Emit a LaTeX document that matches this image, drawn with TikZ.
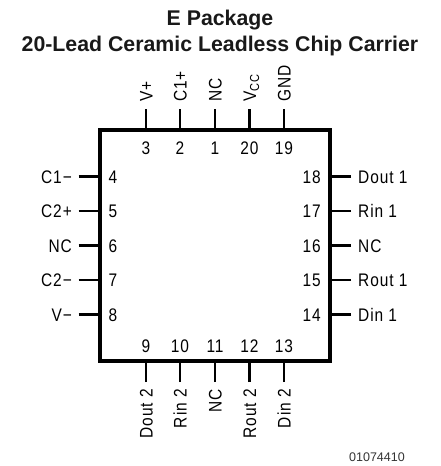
\documentclass[tikz,border=0pt]{standalone}
\usepackage{fontspec}
\usepackage{amsmath}
\setmainfont{Liberation Sans}
\newfontfamily\pinfont[LetterSpace=5,FakeStretch=0.85]{Liberation Sans}
\newcommand{\subCC}{\raisebox{-3pt}{\fontsize{13}{14}\selectfont CC}}
\begin{document}
\begin{tikzpicture}[x=1pt, y=-1pt,
			pinlabel/.style={font=\fontsize{18.2}{20}\pinfont, inner sep=0pt, text height=13pt, text depth=0pt},
			pinnumber/.style={pinlabel},
			lead/.style={line width=2.6pt},
			chip/.style={rectangle, draw, line width=4pt, outer sep=0pt, minimum width=230pt, minimum height=231pt},
			heading/.style={font=\fontsize{21.3}{24}\selectfont\bfseries, anchor=base, inner sep=0pt, text=black!90}]
		\useasboundingbox (0,0) rectangle (440,466);

		\node[heading] (Title) at (220,25) {E Package};
		\node[heading] (Subtitle) at (220,51) {20-Lead Ceramic Leadless Chip Carrier};
		\node[chip] (Chip) at (215,245.5) {};
		\node[font=\fontsize{12.5}{14}\selectfont, anchor=base, inner sep=0pt, text=black!80] (Code) at (377,461) {01074410};

		% top side
		\begin{scope}[nodes = {pinlabel, rotate=90, anchor=west}]
			\node (l3) at (146,102) {V+};
			\node (l2) at (180,102) {C1+};
			\node (l1) at (215,102) {NC};
			\node (l20) at (249.5,102) {V\subCC};
			\node (l19) at (284,102) {GND};
		\end{scope}
		\begin{scope}[nodes = {pinnumber}]
			\node (n3) at (146,147.5) {3};
			\node (n2) at (180,147.5) {2};
			\node (n1) at (215,147.5) {1};
			\node (n20) at (249.5,147.5) {20};
			\node (n19) at (284,147.5) {19};
		\end{scope}
		\coordinate (p3) at (146,109);
		\coordinate (p2) at (180,109);
		\coordinate (p1) at (215,109);
		\coordinate (p20) at (249.5,109);
		\coordinate (p19) at (284,109);
		\draw[lead] (p3) -- (p3 |- Chip.north);
		\draw[lead] (p2) -- (p2 |- Chip.north);
		\draw[lead] (p1) -- (p1 |- Chip.north);
		\draw[lead] (p20) -- (p20 |- Chip.north);
		\draw[lead] (p19) -- (p19 |- Chip.north);

		% left side
		\begin{scope}[nodes = {pinlabel, anchor=east}]
			\node (l4) at (72,176.5) {C1−};
			\node (l5) at (72,211) {C2+};
			\node (l6) at (72,245.5) {NC};
			\node (l7) at (72,280) {C2−};
			\node (l8) at (72,314.5) {V−};
		\end{scope}
		\begin{scope}[nodes = {pinnumber, anchor=west}]
			\node (n4) at (108.5,176.5) {4};
			\node (n5) at (108.5,211) {5};
			\node (n6) at (108.5,245.5) {6};
			\node (n7) at (108.5,280) {7};
			\node (n8) at (108.5,314.5) {8};
		\end{scope}
		\coordinate (p4) at (78.5,176.5);
		\coordinate (p5) at (78.5,211);
		\coordinate (p6) at (78.5,245.5);
		\coordinate (p7) at (78.5,280);
		\coordinate (p8) at (78.5,314.5);
		\draw[lead] (p4) -- (p4 -| Chip.west);
		\draw[lead] (p5) -- (p5 -| Chip.west);
		\draw[lead] (p6) -- (p6 -| Chip.west);
		\draw[lead] (p7) -- (p7 -| Chip.west);
		\draw[lead] (p8) -- (p8 -| Chip.west);

		% bottom side
		\begin{scope}[nodes = {pinlabel, rotate=90, anchor=east}]
			\node (l9) at (146,389) {Dout 2};
			\node (l10) at (180,389) {Rin 2};
			\node (l11) at (215,389) {NC};
			\node (l12) at (249.5,389) {Rout 2};
			\node (l13) at (284,389) {Din 2};
		\end{scope}
		\begin{scope}[nodes = {pinnumber}]
			\node (n9) at (146,345.5) {9};
			\node (n10) at (180,345.5) {10};
			\node (n11) at (215,345.5) {11};
			\node (n12) at (249.5,345.5) {12};
			\node (n13) at (284,345.5) {13};
		\end{scope}
		\coordinate (p9) at (146,382);
		\coordinate (p10) at (180,382);
		\coordinate (p11) at (215,382);
		\coordinate (p12) at (249.5,382);
		\coordinate (p13) at (284,382);
		\draw[lead] (p9) -- (p9 |- Chip.south);
		\draw[lead] (p10) -- (p10 |- Chip.south);
		\draw[lead] (p11) -- (p11 |- Chip.south);
		\draw[lead] (p12) -- (p12 |- Chip.south);
		\draw[lead] (p13) -- (p13 |- Chip.south);

		% right side
		\begin{scope}[nodes = {pinlabel, anchor=west}]
			\node (l18) at (358,176.5) {Dout 1};
			\node (l17) at (358,211) {Rin 1};
			\node (l16) at (358,245.5) {NC};
			\node (l15) at (358,280) {Rout 1};
			\node (l14) at (358,314.5) {Din 1};
		\end{scope}
		\begin{scope}[nodes = {pinnumber, anchor=east}]
			\node (n18) at (321,176.5) {18};
			\node (n17) at (321,211) {17};
			\node (n16) at (321,245.5) {16};
			\node (n15) at (321,280) {15};
			\node (n14) at (321,314.5) {14};
		\end{scope}
		\coordinate (p18) at (351,176.5);
		\coordinate (p17) at (351,211);
		\coordinate (p16) at (351,245.5);
		\coordinate (p15) at (351,280);
		\coordinate (p14) at (351,314.5);
		\draw[lead] (p18) -- (p18 -| Chip.east);
		\draw[lead] (p17) -- (p17 -| Chip.east);
		\draw[lead] (p16) -- (p16 -| Chip.east);
		\draw[lead] (p15) -- (p15 -| Chip.east);
		\draw[lead] (p14) -- (p14 -| Chip.east);
\end{tikzpicture}
\end{document}
